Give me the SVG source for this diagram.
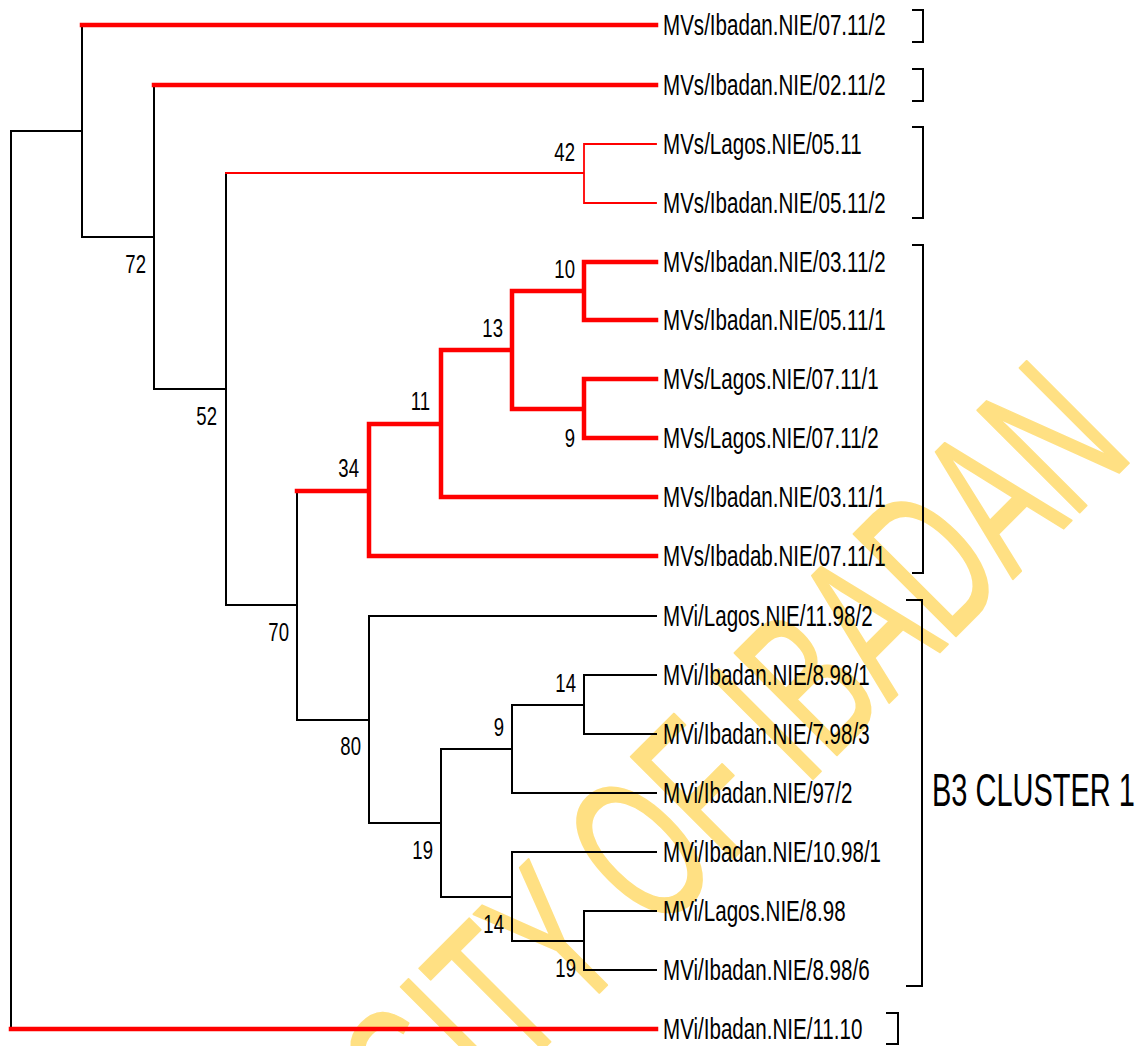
<svg xmlns="http://www.w3.org/2000/svg" width="1141" height="1046" viewBox="0 0 1141 1046">
<style>
.bk{stroke:#000;stroke-width:2;fill:none;stroke-linecap:square}
.rt{stroke:#f00;stroke-width:4.5;fill:none;stroke-linecap:square}
.rn{stroke:#f00;stroke-width:1.8;fill:none;stroke-linecap:square}
.br{stroke:#000;stroke-width:2;fill:none}
.lab{font-family:"Liberation Sans",Arial,sans-serif;font-size:29px;fill:#000}
.num{font-family:"Liberation Sans",Arial,sans-serif;font-size:26.5px;fill:#000;text-anchor:end}
.big{font-family:"Liberation Sans",Arial,sans-serif;font-size:46px;fill:#000}
.wm{font-family:"Liberation Sans",Arial,sans-serif;font-size:210px;fill:#FFE083;stroke:#FFE083;stroke-width:2;stroke-linejoin:round}
</style>
<rect width="1141" height="1046" fill="#fff"/>
<text class="wm" transform="translate(435 1157) rotate(-45) scale(0.6 1)">SITY OF IBADAN</text>
<g id="connectors">
<path class="bk" d="M11 131V1029M11 131H82M82 25V237M82 237H154M154 85V389M154 389H226M226 173V605M226 605H297M297 491V720M297 720H369"/>
<path class="rt" d="M11 1029H656M82 25H656M154 85H656"/>
<path class="rn" d="M226 173H584M584 144V203M584 144H656M584 203H656"/>
<path class="rt" d="M297 491H369M369 424V556M369 556H656M369 424H441M441 350V497M441 497H656M441 350H512M512 291V409M512 291H584M512 409H584M584 262V320M584 262H656M584 320H656M584 379V438M584 379H656M584 438H656"/>
<path class="bk" d="M369 616V823M369 616H656M369 823H441M441 749V897M441 749H512M441 897H512M512 705V793M512 705H584M512 793H656M584 675V734M584 675H656M584 734H656M512 852V941M512 852H656M512 941H584M584 911V970M584 911H656M584 970H656"/>
</g>
<g id="leaves">
<text class="lab" transform="translate(663 35) scale(0.71 1)">MVs/Ibadan.NIE/07.11/2</text>
<text class="lab" transform="translate(663 95) scale(0.71 1)">MVs/Ibadan.NIE/02.11/2</text>
<text class="lab" transform="translate(663 154) scale(0.71 1)">MVs/Lagos.NIE/05.11</text>
<text class="lab" transform="translate(663 213) scale(0.71 1)">MVs/Ibadan.NIE/05.11/2</text>
<text class="lab" transform="translate(663 272) scale(0.71 1)">MVs/Ibadan.NIE/03.11/2</text>
<text class="lab" transform="translate(663 330) scale(0.71 1)">MVs/Ibadan.NIE/05.11/1</text>
<text class="lab" transform="translate(663 389) scale(0.71 1)">MVs/Lagos.NIE/07.11/1</text>
<text class="lab" transform="translate(663 448) scale(0.71 1)">MVs/Lagos.NIE/07.11/2</text>
<text class="lab" transform="translate(663 507) scale(0.71 1)">MVs/Ibadan.NIE/03.11/1</text>
<text class="lab" transform="translate(663 566) scale(0.71 1)">MVs/Ibadab.NIE/07.11/1</text>
<text class="lab" transform="translate(663 626) scale(0.71 1)">MVi/Lagos.NIE/11.98/2</text>
<text class="lab" transform="translate(663 685) scale(0.71 1)">MVi/Ibadan.NIE/8.98/1</text>
<text class="lab" transform="translate(663 744) scale(0.71 1)">MVi/Ibadan.NIE/7.98/3</text>
<text class="lab" transform="translate(663 803) scale(0.71 1)">MVi/Ibadan.NIE/97/2</text>
<text class="lab" transform="translate(663 862) scale(0.71 1)">MVi/Ibadan.NIE/10.98/1</text>
<text class="lab" transform="translate(663 921) scale(0.71 1)">MVi/Lagos.NIE/8.98</text>
<text class="lab" transform="translate(663 980) scale(0.71 1)">MVi/Ibadan.NIE/8.98/6</text>
<text class="lab" transform="translate(663 1039) scale(0.71 1)">MVi/Ibadan.NIE/11.10</text>
</g>
<g id="support">
<text class="num" transform="translate(146 273) scale(0.7 1)">72</text>
<text class="num" transform="translate(217 425) scale(0.7 1)">52</text>
<text class="num" transform="translate(575 161) scale(0.7 1)">42</text>
<text class="num" transform="translate(575 278) scale(0.7 1)">10</text>
<text class="num" transform="translate(503 337) scale(0.7 1)">13</text>
<text class="num" transform="translate(430 410) scale(0.7 1)">11</text>
<text class="num" transform="translate(359 477) scale(0.7 1)">34</text>
<text class="num" transform="translate(575 447) scale(0.7 1)">9</text>
<text class="num" transform="translate(289 641) scale(0.7 1)">70</text>
<text class="num" transform="translate(361 755) scale(0.7 1)">80</text>
<text class="num" transform="translate(433 859) scale(0.7 1)">19</text>
<text class="num" transform="translate(504 736) scale(0.7 1)">9</text>
<text class="num" transform="translate(576 692) scale(0.7 1)">14</text>
<text class="num" transform="translate(504 933) scale(0.7 1)">14</text>
<text class="num" transform="translate(576 977) scale(0.7 1)">19</text>
</g>
<g id="brackets">
<path class="br" d="M912 10H923V42H912"/>
<path class="br" d="M912 69H923V101H912"/>
<path class="br" d="M912 127H923V218H912"/>
<path class="br" d="M912 245H923V573H912"/>
<path class="br" d="M906 600H922V986H906"/>
<path class="br" d="M886 1013H898V1044H886"/>
<text class="big" transform="translate(932 806) scale(0.63 1)">B3 CLUSTER 1</text>
</g>
</svg>
